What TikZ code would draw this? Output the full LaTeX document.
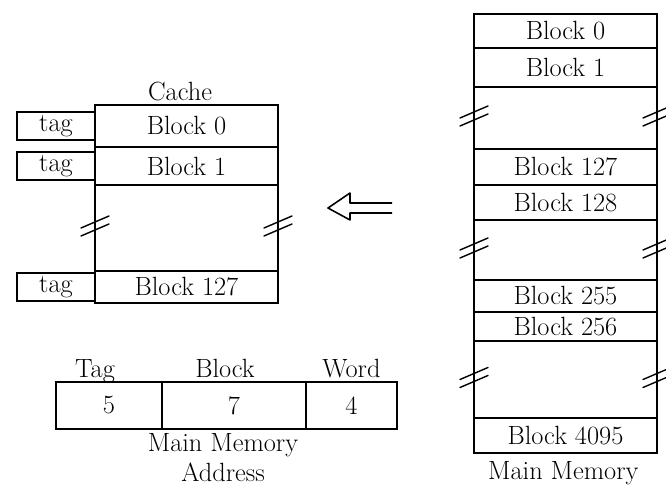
\documentclass[tikz,border=0pt]{standalone}
\usetikzlibrary{arrows.meta,positioning}
\tikzset{
  mem row/.style={
    draw,rectangle,line width=1pt,
    minimum width=36.6mm,inner sep=0pt,outer sep=0pt
  },
  tag box/.style={
    draw,rectangle,line width=1pt,
    minimum width=15.6mm,minimum height=5.6mm,inner sep=0pt,outer sep=0pt
  },
  addr cell/.style={
    draw,rectangle,line width=1pt,
    minimum height=9.4mm,inner sep=0pt,outer sep=0pt
  },
  field name/.style={
    text height=1.6ex,text depth=0.5ex
  },
  break mark/.style={
    line width=0.8pt,line cap=round
  }
}

\begin{document}
\begin{tikzpicture}[x=0.2mm,y=-0.2mm,font={\fontsize{15}{17}\selectfont}]
  \useasboundingbox (0,0) rectangle (666,491);

  % cache
  \node[mem row,minimum height=8.4mm] (c0) at (186.5,126) {Block 0};
  \node[mem row,minimum height=7.6mm,below=0pt of c0] (c1) {Block 1};
  \node[mem row,minimum height=17.2mm,below=0pt of c1] (cgap) {};
  \node[mem row,minimum height=6.4mm,below=0pt of cgap] (c127) {Block 127};
  \node[above=-1pt of c0,xshift=-1.3mm] (cachelabel) {Cache};

  \foreach \r in {c0,c1,c127}
    \node[tag box,left=0pt of \r] (tag\r) {tag};

  % main memory
  \node[mem row,minimum height=6.8mm] (m0) at (565.5,31) {Block 0};
  \node[mem row,minimum height=7.8mm,below=0pt of m0] (m1) {Block 1};
  \node[mem row,minimum height=12.4mm,below=0pt of m1] (mgapa) {};
  \node[mem row,minimum height=7.2mm,below=0pt of mgapa] (m127) {Block 127};
  \node[mem row,minimum height=7mm,below=0pt of m127] (m128) {Block 128};
  \node[mem row,minimum height=12mm,below=0pt of m128] (mgapb) {};
  \node[mem row,minimum height=6.4mm,below=0pt of mgapb] (m255) {Block 255};
  \node[mem row,minimum height=5.8mm,below=0pt of m255] (m256) {Block 256};
  \node[mem row,minimum height=15.4mm,below=0pt of m256] (mgapc) {};
  \node[mem row,minimum height=7mm,below=0pt of mgapc] (m4095) {Block 4095};
  \node[anchor=north west] (mmlabel)
    at ([xshift=1.6mm,yshift=-0.4mm]m4095.south west) {Main Memory};

  % breaks in the columns
  \foreach \g in {cgap,mgapa,mgapb,mgapc}
    \foreach \s in {west,east} {
      \draw[break mark] ([shift={(-14,0)}]\g.\s) -- ++(28,-12);
      \draw[break mark] ([shift={(-14,8)}]\g.\s) -- ++(28,-12);
    }

  % mapping arrow (outline)
  \coordinate (arrtail) at (392,208);
  \coordinate (arrtip) at (328,208);
  \draw[line width=0.9pt,line join=round]
    ([yshift=1mm]arrtail) -- ++(-42,0) -- ++(0,-10) -- (arrtip)
    -- ++(22,12) -- ++(0,-7) -- ([yshift=-1mm]arrtail);

  % address format
  \node[addr cell,minimum width=21.2mm] (atag) at (109,405.5) {5};
  \node[addr cell,minimum width=28.8mm,right=0pt of atag] (ablock) {7};
  \node[addr cell,minimum width=18.2mm,right=0pt of ablock] (aword) {4};

  \node[field name,above=-3pt of atag,xshift=-2.8mm] (tagname) {Tag};
  \node[field name,above=-3pt of ablock,xshift=-1.8mm] (blockname) {Block};
  \node[field name,above=-3pt of aword] (wordname) {Word};

  \node[below=-1pt of ablock,xshift=-2.2mm,align=center] (addrlabel)
    {Main Memory\\Address};
\end{tikzpicture}
\end{document}
